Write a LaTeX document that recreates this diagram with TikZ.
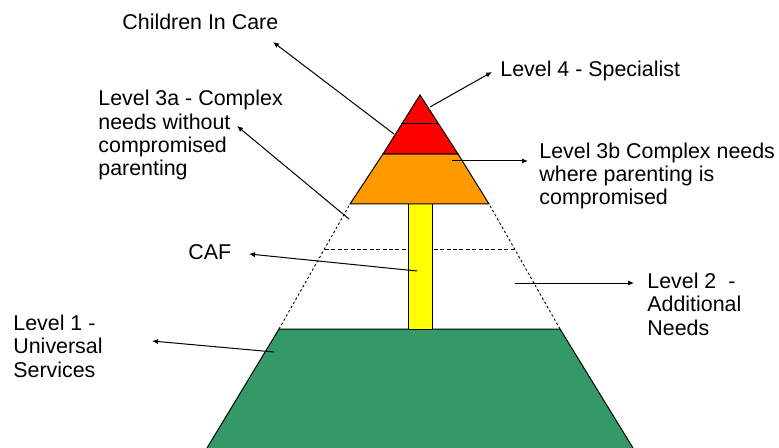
\documentclass[tikz,border=0pt]{standalone}
\usepackage{fontspec}
\setmainfont{Liberation Sans}
\usetikzlibrary{arrows.meta}
\definecolor{lvGreen}{RGB}{51, 153, 102}
\definecolor{lvOrange}{RGB}{255, 153, 0}
\definecolor{lvRed}{RGB}{255, 0, 0}
\definecolor{lvYellow}{RGB}{255, 255, 0}
\tikzset{
    base/.style={
        font=\fontsize{10.7}{11.7}\selectfont,
        align=left,
        inner sep=0pt
    },
    level/.style={
        base,
        anchor=base west
    },
    tier/.style={
        draw=black,
        line width=0.5pt,
        line join=miter
    },
    pointer/.style={
        -{Latex[length=3pt, width=2.6pt]},
        line width=0.5pt,
        color=black
    },
    guide/.style={
        line width=0.45pt,
        dash pattern=on 1.2pt off 1.2pt
    }
}
\begin{document}
\begin{tikzpicture}[x=0.5pt, y=-0.5pt]
  \useasboundingbox (0,0) rectangle (779,448);

  % Corner points of the pyramid
  \coordinate (apex) at (420,95);
  \coordinate (redL) at (383,154);
  \coordinate (redR) at (458,154);
  \coordinate (orgL) at (350,204);
  \coordinate (orgR) at (489,204);
  \coordinate (grnL) at (279,329);
  \coordinate (grnR) at (560,329);

  % Dashed middle band
  \draw[guide] (grnL) -- (orgL);
  \draw[guide] (grnR) -- (orgR);
  \draw[guide, dash pattern=on 2pt off 1.2pt] (325,249) -- (514,249);

  % Tiers
  \fill[lvGreen] (207,448) -- (grnL) -- (grnR) -- (633,448) -- cycle;
  \draw[tier] (207,448) -- (grnL) -- (grnR) -- (633,448);
  \draw[tier, fill=lvYellow] (408,204) rectangle (432,329);
  \draw[tier, fill=lvOrange] (orgL) -- (redL) -- (redR) -- (orgR) -- cycle;
  \draw[tier, fill=lvRed] (redL) -- (apex) -- (redR) -- cycle;
  \draw[tier] (401,124) -- (439,124);

  % Labels (base = last line)
  \node[level] (lblCare) at (122,30) {Children In Care};
  \node[level] (lblFour) at (500,77) {Level 4 - Specialist};
  \node[level] (lblThreeA) at (98,176) {Level 3a - Complex\\needs without\\compromised\\parenting};
  \node[level] (lblThreeB) at (539,205) {Level 3b Complex needs\\where parenting is\\compromised};
  \node[level] (lblCaf) at (188,259) {CAF};
  \node[level] (lblTwo) at (647,335) {Level 2~ -\\Additional\\Needs};
  \node[level] (lblOne) at (13,377) {Level 1 -\\Universal\\Services};

  % Arrow ends
  \coordinate (careFrom) at (394,134);   \coordinate (careTip) at (273,42);
  \coordinate (fourFrom) at (430,107);   \coordinate (fourTip) at (492,72);
  \coordinate (threeAFrom) at (349,219); \coordinate (threeATip) at (237,126);
  \coordinate (threeBFrom) at (452,161); \coordinate (threeBTip) at (528,161);
  \coordinate (cafFrom) at (417,271);    \coordinate (cafTip) at (249,254);
  \coordinate (twoFrom) at (515,283);    \coordinate (twoTip) at (634,283);
  \coordinate (oneFrom) at (274,352);    \coordinate (oneTip) at (152,341);

  % Pointers
  \draw[pointer] (careFrom) -- (careTip);
  \draw[pointer] (fourFrom) -- (fourTip);
  \draw[pointer] (threeAFrom) -- (threeATip);
  \draw[pointer] (threeBFrom) -- (threeBTip);
  \draw[pointer] (cafFrom) -- (cafTip);
  \draw[pointer] (twoFrom) -- (twoTip);
  \draw[pointer] (oneFrom) -- (oneTip);
\end{tikzpicture}
\end{document}
